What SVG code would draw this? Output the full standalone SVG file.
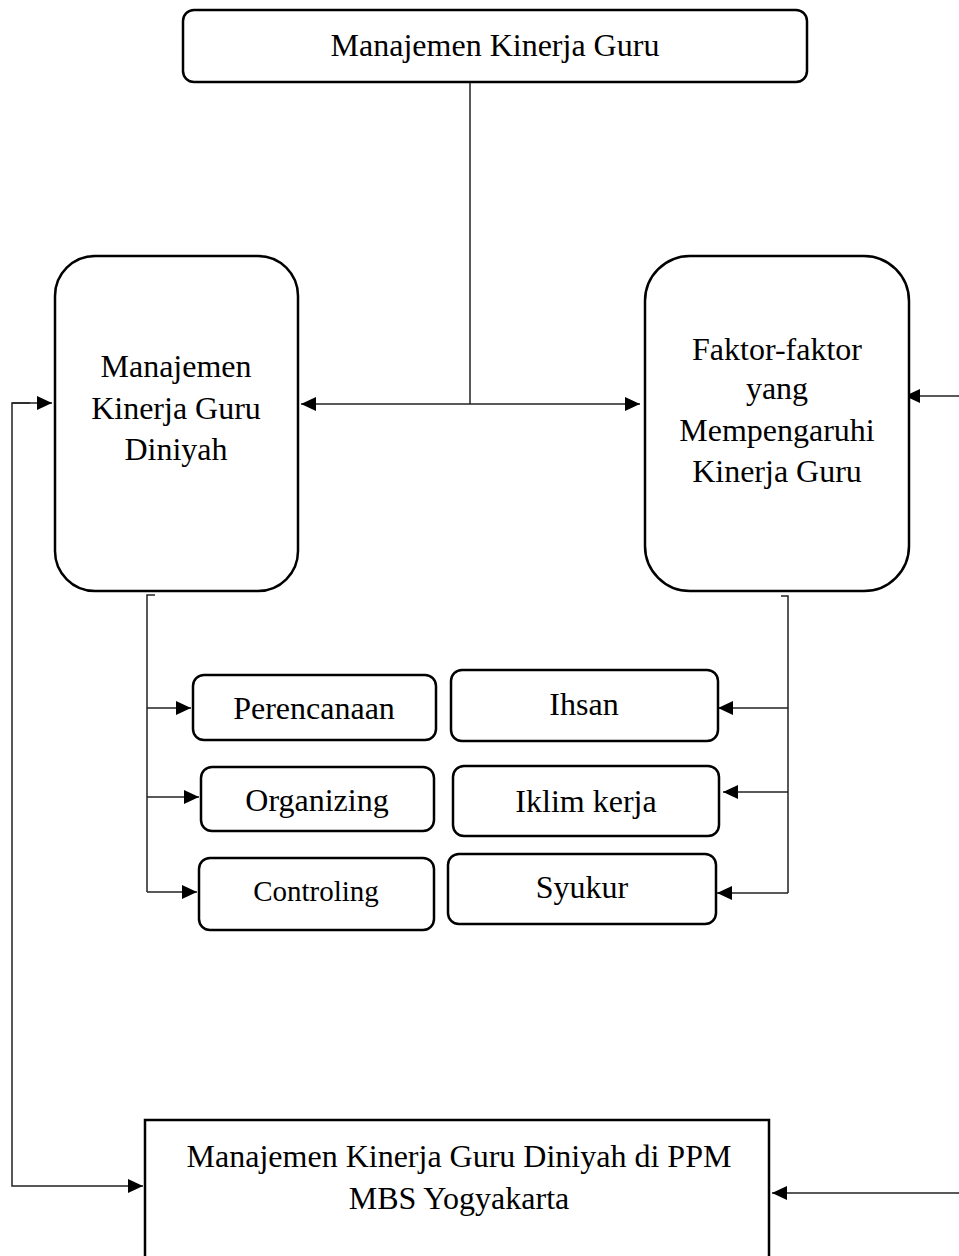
<svg xmlns="http://www.w3.org/2000/svg" width="959" height="1256" viewBox="0 0 959 1256">
<style>
.box{fill:#fff;stroke:#000;stroke-width:2.5}
.t{font-family:"Liberation Serif","Times New Roman",serif;font-size:32px;fill:#000;text-anchor:middle}
.c{fill:none;stroke:#222;stroke-width:1.5}
</style>
<defs>
<marker id="ahb" viewBox="0 0 15 14" refX="15" refY="7" markerWidth="15" markerHeight="14" markerUnits="userSpaceOnUse" orient="auto">
<path d="M0,0 L15,7 L0,14 z" fill="#000"/>
</marker>
</defs>
<rect width="959" height="1256" fill="#fff"/>
<g id="connectors">
<path class="c" d="M470,82 V404"/>
<path class="c" d="M470,404 H301" marker-end="url(#ahb)"/>
<path class="c" d="M470,404 H640" marker-end="url(#ahb)"/>
<path class="c" d="M155,595 H147 V892"/>
<path class="c" d="M147,708 H191" marker-end="url(#ahb)"/>
<path class="c" d="M147,797 H199" marker-end="url(#ahb)"/>
<path class="c" d="M147,892 H197" marker-end="url(#ahb)"/>
<path class="c" d="M781,596 H788 V893"/>
<path class="c" d="M788,708 H718" marker-end="url(#ahb)"/>
<path class="c" d="M788,792 H723" marker-end="url(#ahb)"/>
<path class="c" d="M788,893 H717" marker-end="url(#ahb)"/>
<path class="c" d="M959,396 H905" marker-end="url(#ahb)"/>
<path class="c" d="M30,403 H12 V1186 H143" marker-end="url(#ahb)"/>
<path class="c" d="M12,403 H52" marker-end="url(#ahb)"/>
<path class="c" d="M959,1193 H772" marker-end="url(#ahb)"/>
</g>
<g id="top">
<rect class="box" x="183" y="10" width="624" height="72" rx="11"/>
<text class="t" x="495" y="56">Manajemen Kinerja Guru</text>
</g>
<g id="left">
<rect class="box" x="55" y="256" width="243" height="335" rx="40"/>
<text class="t" x="176" y="377">Manajemen</text>
<text class="t" x="176" y="419">Kinerja Guru</text>
<text class="t" x="176" y="460">Diniyah</text>
</g>
<g id="right">
<rect class="box" x="645" y="256" width="264" height="335" rx="45"/>
<text class="t" x="777" y="360">Faktor-faktor</text>
<text class="t" x="777" y="399">yang</text>
<text class="t" x="777" y="441">Mempengaruhi</text>
<text class="t" x="777" y="482">Kinerja Guru</text>
</g>
<g id="perencanaan">
<rect class="box" x="193" y="675" width="243" height="65" rx="11"/>
<text class="t" x="314" y="719">Perencanaan</text>
</g>
<g id="organizing">
<rect class="box" x="201" y="767" width="233" height="64" rx="11"/>
<text class="t" x="317" y="811">Organizing</text>
</g>
<g id="controling">
<rect class="box" x="199" y="858" width="235" height="72" rx="11"/>
<text class="t" x="316" y="901" style="font-size:29px">Controling</text>
</g>
<g id="ihsan">
<rect class="box" x="451" y="670" width="267" height="71" rx="11"/>
<text class="t" x="584" y="715">Ihsan</text>
</g>
<g id="iklim">
<rect class="box" x="453" y="766" width="266" height="70" rx="11"/>
<text class="t" x="586" y="812">Iklim kerja</text>
</g>
<g id="syukur">
<rect class="box" x="448" y="854" width="268" height="70" rx="11"/>
<text class="t" x="582" y="898">Syukur</text>
</g>
<g id="bottom">
<rect class="box" x="145" y="1120" width="624" height="150"/>
<text class="t" x="459" y="1167">Manajemen Kinerja Guru Diniyah di PPM</text>
<text class="t" x="459" y="1209">MBS Yogyakarta</text>
</g>
</svg>
